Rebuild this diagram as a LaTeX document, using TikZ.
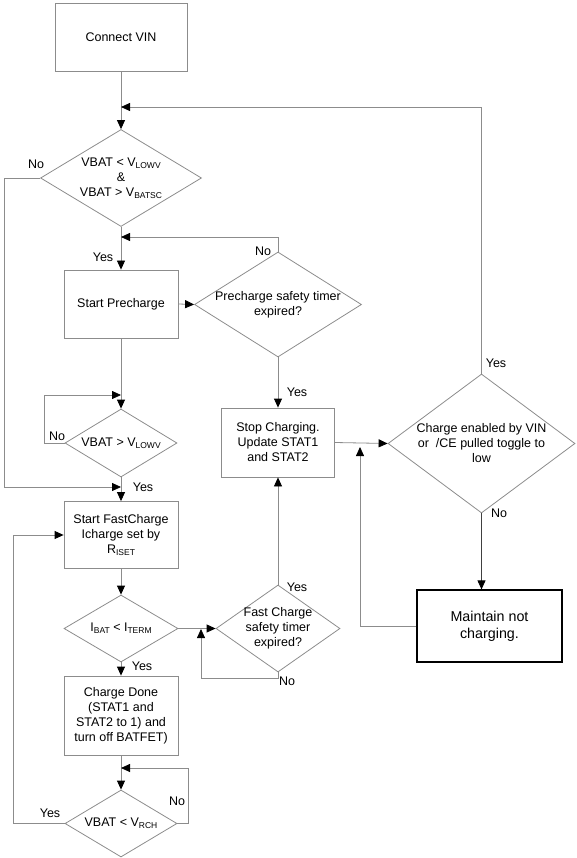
\documentclass[tikz,border=0pt]{standalone}
\usepackage{fontspec}
\setmainfont{Liberation Sans}
\usetikzlibrary{shapes.geometric,arrows.meta}
\definecolor{lgray}{HTML}{8C8C8C}
\newcommand{\lsub}[1]{\raisebox{-0.35ex}{\fontsize{8.5}{9}\selectfont #1}}
\begin{document}
\begin{tikzpicture}[x=1pt,y=-1pt,
  every node/.style={font=\fontsize{12.5}{15}\selectfont},
  box/.style={draw=lgray,line width=0.8pt,minimum width=114pt,minimum height=68pt,align=center,inner sep=2pt},
  dia/.style={diamond,draw=lgray,line width=0.8pt,inner sep=0pt},
  line/.style={draw=lgray,line width=0.8pt},
  arr/.style={line,-{Triangle[length=9pt,width=8pt,color=black]}},
  lbl/.style={inner sep=0pt}
]
\useasboundingbox (0,0) rectangle (576,858);
% nodes
\node[box,minimum width=132pt,minimum height=68pt] (cv) at (121,37) {Connect VIN};
\node[dia,minimum width=161pt,minimum height=97pt,
  label={[name=d1t,align=center]center:{VBAT < V\lsub{LOWV}\\\&\\VBAT > V\lsub{BATSC}}}] (d1) at (121,178) {};
\node[box] (sp) at (121,304) {Start Precharge};
\node[dia,minimum width=167pt,minimum height=105pt,
  label={[name=ptt,align=center]center:{Precharge safety timer\\expired?}}] (pt) at (278,304.5) {};
\node[box,minimum width=113pt,minimum height=69pt] (sc) at (278,442.5) {Stop Charging.\\Update STAT1\\and STAT2};
\node[dia,minimum width=112pt,minimum height=68pt,
  label={[name=d2t]center:{VBAT > V\lsub{LOWV}}}] (d2) at (121,443) {};
\node[box,minimum height=67pt] (fc) at (121,535) {Start FastCharge\\Icharge set by\\R\lsub{ISET}};
\node[dia,minimum width=114pt,minimum height=67pt,
  label={[name=d3t]center:{I\lsub{BAT} < I\lsub{TERM}}}] (d3) at (121,628.5) {};
\node[dia,minimum width=124pt,minimum height=87pt,
  label={[name=ftt,align=center]center:{Fast Charge\\safety timer\\expired?}}] (ft) at (278,628.5) {};
\node[box,minimum height=79pt] (cd) at (121,715.5) {Charge Done\\(STAT1 and\\STAT2 to 1) and\\turn off BATFET)};
\node[dia,minimum width=112pt,minimum height=67pt,
  label={[name=d4t]center:{VBAT < V\lsub{RCH}}}] (d4) at (121,823.5) {};
\node[dia,minimum width=187pt,minimum height=139pt,
  label={[name=cet,align=center]center:{Charge enabled by VIN\\or\ \ /CE pulled toggle to\\low}}] (ce) at (481.5,443.5) {};
\node[box,draw=black,line width=1.2pt,minimum width=145pt,minimum height=72pt,
  font=\fontsize{14.3}{17}\selectfont] (mt) at (489.5,626) {Maintain not\\charging.};
% free ends
\coordinate (m1) at (121,107);
\coordinate (m4) at (121,487);
\coordinate (m2) at (121,395);
\coordinate (m5) at (121,237);
\coordinate (m13) at (201,629);
\coordinate (m17) at (121,768);
\coordinate (m20) at (360,447);
% connectors
\draw[arr] (cv) -- (d1);
\draw[arr] (ce.north) |- (m1);
\draw[arr] (d1.west) -| (4,487) -- (m4);
\draw[arr] (d1.south) -- (sp.north);
\draw[arr] (pt.north) |- (m5);
\draw[arr] (sp.east) -- (pt.west);
\draw[arr] (pt.south) -- (sc.north);
\draw[arr] (sp.south) -- (d2.north);
\draw[arr] (d2.west) -| (44,395) -- (m2);
\draw[arr] (d2.south) -- (fc.north);
\draw[arr] (fc.south) -- (d3.north);
\draw[arr] (d3.east) -- (ft.west);
\draw[arr] (ft.south) -- (278,678) -| (m13);
\draw[arr] (ft.north) -- (sc.south);
\draw[arr] (d3.south) -- (cd.north);
\draw[arr] (cd.south) -- (d4.north);
\draw[arr] (d4.east) -| (188,768) -- (m17);
\draw[arr] (d4.west) -| (13,535) -- (fc.west);
\draw[arr] (sc.east) -- (ce.west);
\draw[arr] (mt.west) -| (m20);
\draw[arr,draw=black!75] (ce.south) -- (ce.south |- mt.north);
% branch labels
\node[lbl] (l1) at (36,164) {No};
\node[lbl] (l2) at (103,257) {Yes};
\node[lbl] (l3) at (263,251) {No};
\node[lbl] (l4) at (297,392) {Yes};
\node[lbl] (l5) at (57,436) {No};
\node[lbl] (l6) at (143,487) {Yes};
\node[lbl] (l7) at (142,666) {Yes};
\node[lbl] (l8) at (297,587) {Yes};
\node[lbl] (l9) at (287,681) {No};
\node[lbl] (l10) at (177,801) {No};
\node[lbl] (l11) at (50,813) {Yes};
\node[lbl] (l12) at (496,363) {Yes};
\node[lbl] (l13) at (499,513) {No};
\end{tikzpicture}
\end{document}
